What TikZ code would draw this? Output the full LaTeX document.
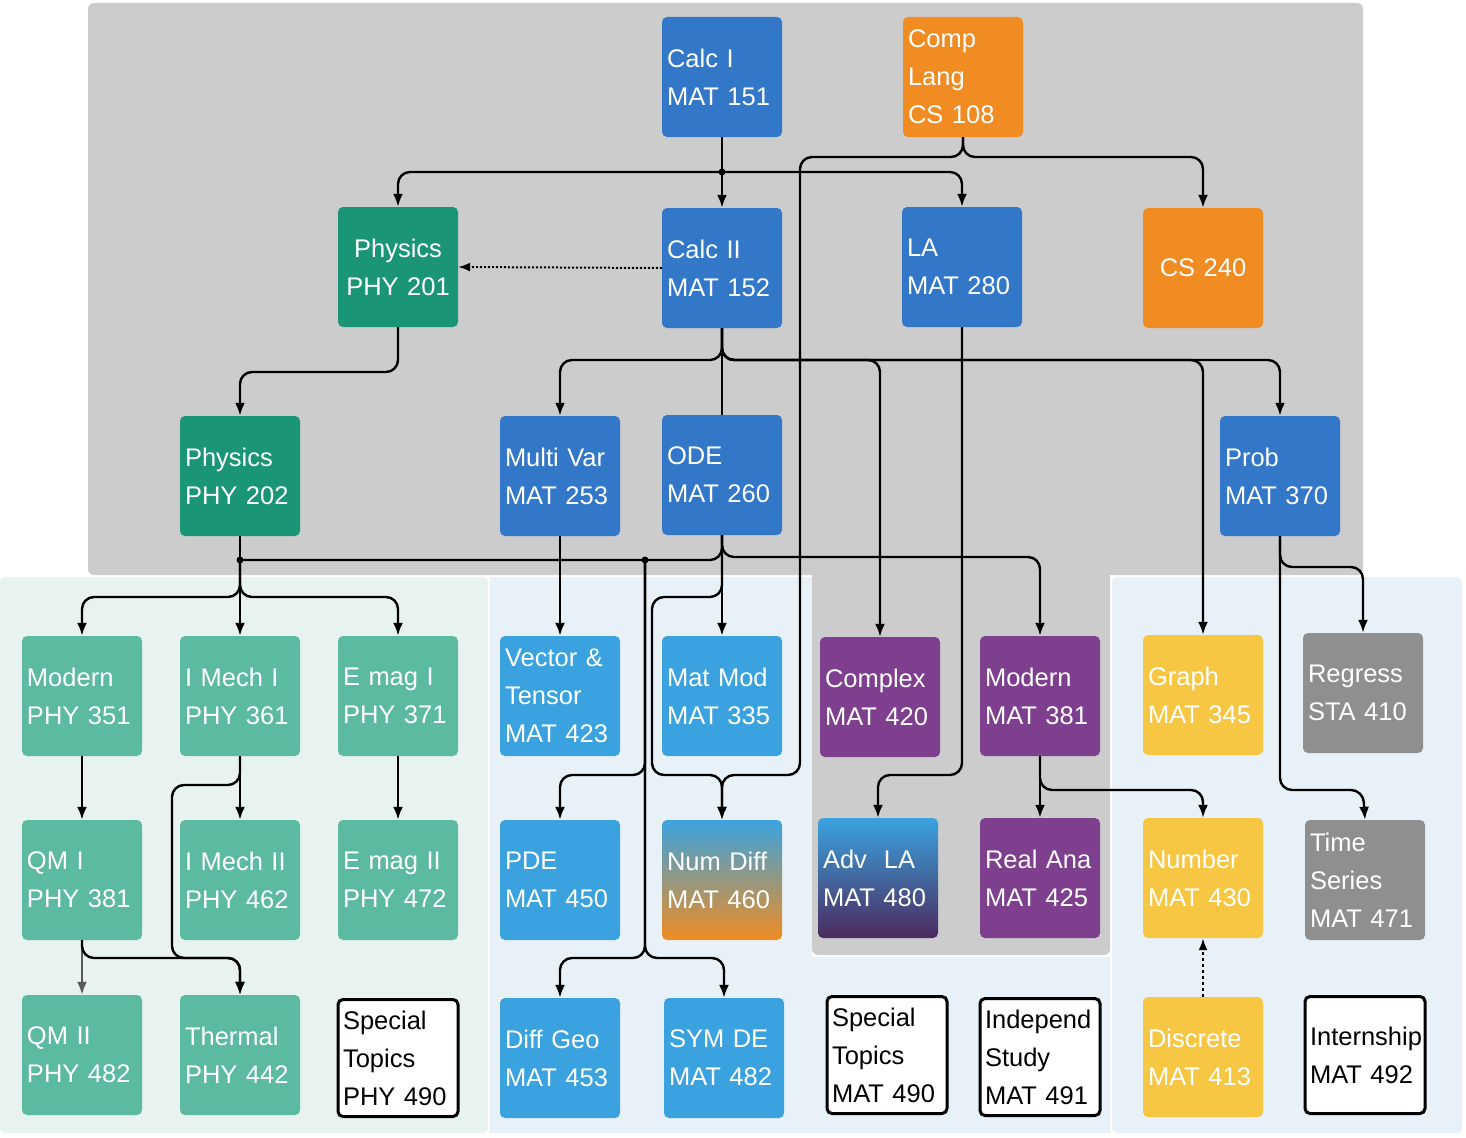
\documentclass[tikz,border=0pt]{standalone}
\usepackage{fontspec}
\setmainfont{Liberation Sans}
\usetikzlibrary{arrows.meta}
\definecolor{bl}{HTML}{3277C8}
\definecolor{lb}{HTML}{3AA3DF}
\definecolor{org}{HTML}{F08C22}
\definecolor{tl}{HTML}{1A9677}
\definecolor{ltl}{HTML}{5BBAA0}
\definecolor{pur}{HTML}{7E3F8F}
\definecolor{yel}{HTML}{F7C744}
\definecolor{gr}{HTML}{8F8F8F}
\definecolor{bggreen}{HTML}{E8F3F0}
\definecolor{bgblue}{HTML}{E8F1F8}
\definecolor{dpur}{HTML}{4B2A5E}
\begin{document}
\begin{tikzpicture}[x=1pt,y=-1pt,
 box/.style={rounded corners=5pt,minimum width=120pt,minimum height=120pt,text width=110pt,inner sep=5pt,align=left,text=white,font=\fontsize{25.5}{38}\selectfont},
 cbox/.style={box,align=center},
 wbox/.style={box,fill=white,draw=black,line width=3pt,text=black,minimum width=117pt,minimum height=117pt},
 arr/.style={line width=2.4pt,-{Latex[length=13pt,width=10pt]},rounded corners=12pt},
 ln/.style={line width=2.4pt,rounded corners=12pt},
 dot/.style={circle,fill=black,inner sep=0pt,minimum size=7pt}]
\useasboundingbox (0,0) rectangle (1466,1137);
% backgrounds
\fill[black!20,rounded corners=6pt] (88,3) rectangle (1363,575);
\fill[black!20,rounded corners=6pt] (812,560) rectangle (1110,955);
\fill[bggreen,rounded corners=6pt] (0,577) rectangle (488,1133);
\fill[bgblue] (490,577) rectangle (812,1133);
\fill[bgblue] (812,957) rectangle (1110,1133);
\fill[bgblue,rounded corners=6pt] (1112,577) rectangle (1462,1133);
% nodes
\node[box,fill=bl] (c1) at (722,77) {Calc I\\MAT 151};
\node[box,fill=org] (cl) at (963,77) {Comp\\Lang\\CS 108};
\node[cbox,fill=tl] (p201) at (398,267) {Physics\\PHY 201};
\node[box,fill=bl] (c2) at (722,268) {Calc II\\MAT 152};
\node[box,fill=bl] (la) at (962,267) {LA\\MAT 280};
\node[cbox,fill=org] (cs) at (1203,268) {CS 240};
\node[box,fill=tl] (p202) at (240,476) {Physics\\PHY 202};
\node[box,fill=bl] (mv) at (560,476) {Multi Var\\MAT 253};
\node[box,fill=bl] (ode) at (722,475) {ODE\\MAT 260};
\node[box,fill=bl] (prob) at (1280,476) {Prob\\MAT 370};
\node[box,fill=ltl] (m351) at (82,696) {Modern\\PHY 351};
\node[box,fill=ltl] (im1) at (240,696) {I Mech I\\PHY 361};
\node[box,fill=ltl] (em1) at (398,696) {E mag I\\PHY 371};
\node[box,fill=lb] (vt) at (560,696) {Vector \&\\Tensor\\MAT 423};
\node[box,fill=lb] (mm) at (722,696) {Mat Mod\\MAT 335};
\node[box,fill=pur] (cx) at (880,697) {Complex\\MAT 420};
\node[box,fill=pur] (m381) at (1040,696) {Modern\\MAT 381};
\node[box,fill=yel] (gph) at (1203,695) {Graph\\MAT 345};
\node[box,fill=gr] (reg) at (1363,693) {Regress\\STA 410};
\node[box,fill=ltl] (qm1) at (82,880) {QM I\\PHY 381};
\node[box,fill=ltl] (im2) at (240,880) {I Mech II\\PHY 462};
\node[box,fill=ltl] (em2) at (398,880) {E mag II\\PHY 472};
\node[box,fill=lb] (pde) at (560,880) {PDE\\MAT 450};
\node[box,top color=lb,bottom color=org] (nd) at (722,880) {Num Diff\\MAT 460};
\node[box,top color=lb,bottom color=dpur] (adv) at (878,878) {Adv\ \ LA\\MAT 480};
\node[box,fill=pur] (ra) at (1040,878) {Real Ana\\MAT 425};
\node[box,fill=yel] (num) at (1203,878) {Number\\MAT 430};
\node[box,fill=gr] (ts) at (1365,880) {Time\\Series\\MAT 471};
\node[box,fill=ltl] (qm2) at (82,1055) {QM II\\PHY 482};
\node[box,fill=ltl] (th) at (240,1055) {Thermal\\PHY 442};
\node[wbox] (sp1) at (398,1058) {Special\\Topics\\PHY 490};
\node[box,fill=lb] (dg) at (560,1058) {Diff Geo\\MAT 453};
\node[box,fill=lb] (sym) at (724,1058) {SYM DE\\MAT 482};
\node[wbox] (sp2) at (887,1055) {Special\\Topics\\MAT 490};
\node[wbox] (ind) at (1040,1057) {Independ\\Study\\MAT 491};
\node[box,fill=yel] (dis) at (1203,1057) {Discrete\\MAT 413};
\node[wbox] (int) at (1365,1055) {Internship\\MAT 492};
% coordinates
\coordinate (j1) at (722,172);
\coordinate (j2) at (240,560);
\coordinate (j3) at (645,560);
% edges
\draw[arr] (c1.south) -- (c2.north);
\draw[arr] (j1) -| (p201.north);
\draw[arr] (j1) -| (la.north);
\node[dot] at (j1) {};
\draw[arr] (cl.south) |- (800,157) -- (800,775) -| (nd.north);
\draw[arr] (cl.south) |- (1203,157) -- (cs.north);
\draw[line width=2pt,dotted,-{Latex[length=12pt,width=9pt]}] (c2.west) -- (p201.east);
\draw[arr] (p201.south) |- (240,372) -- (p202.north);
\draw[arr] (c2.south) |- (560,360) -- (mv.north);
\draw[ln] (c2.south) -- (ode.north);
\draw[arr] (c2.south) |- (880,360) -- (cx.north);
\draw[arr] (c2.south) |- (1203,360) -- (gph.north);
\draw[arr] (c2.south) |- (1280,360) -- (prob.north);
\draw[arr] (la.south) |- (878,775) -- (adv.north);
\draw[ln] (ode.south) |- (j2);
\draw[ln] (p202.south) -- (j2);
\draw[arr] (j3) |- (560,775) -- (pde.north);
\draw[arr] (j3) |- (560,958) -- (dg.north);
\draw[arr] (j3) |- (724,958) -- (sym.north);
\node[dot] at (j2) {};
\node[dot] at (j3) {};
\draw[arr] (j2) |- (82,597) -- (m351.north);
\draw[arr] (j2) -- (im1.north);
\draw[arr] (j2) |- (398,597) -- (em1.north);
\draw[arr] (ode.south) -- (mm.north);
\draw[arr] (ode.south) |- (652,597) |- (722,775) -- (nd.north);
\draw[arr] (ode.south) |- (1040,557) -- (m381.north);
\draw[arr] (mv.south) -- (vt.north);
\draw[arr] (m351.south) -- (qm1.north);
\draw[arr] (im1.south) -- (im2.north);
\draw[arr] (im1.south) |- (172,785) |- (240,958) -- (th.north);
\draw[arr,draw=black!65] (qm1.south) -- (qm2.north);
\draw[arr] (qm1.south) |- (240,958) -- (th.north);
\draw[arr] (em1.south) -- (em2.north);
\draw[arr] (m381.south) -- (ra.north);
\draw[arr] (m381.south) |- (1203,790) -- (num.north);
\draw[arr] (prob.south) |- (1363,567) -- (reg.north);
\draw[arr] (prob.south) |- (1363,790) -- (ts.north);
\draw[line width=2.2pt,dashed,-{Latex[length=12pt,width=9pt]}] (dis.north) -- (num.south);
\end{tikzpicture}
\end{document}
